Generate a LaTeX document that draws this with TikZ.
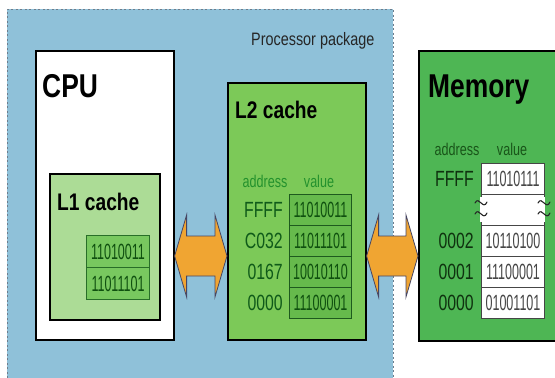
\documentclass[tikz,border=0pt]{standalone}
\usepackage{fontspec}
\setmainfont{Liberation Sans}
\newfontfamily\titlef{Liberation Sans}[FakeStretch=0.8]
\newfontfamily\lblf{Liberation Sans}[FakeStretch=0.74]
\newfontfamily\adrf{Liberation Sans}[FakeStretch=0.72]
\newfontfamily\bitf{Liberation Sans}[FakeStretch=0.57]
\usetikzlibrary{calc}
\definecolor{pkgblue}{RGB}{143,193,217}
\definecolor{pkgedge}{RGB}{110,125,140}
\definecolor{lonegreen}{RGB}{172,220,150}
\definecolor{lonecell}{RGB}{120,200,95}
\definecolor{lonecelledge}{RGB}{40,110,40}
\definecolor{ltwogreen}{RGB}{124,201,88}
\definecolor{ltwocell}{RGB}{102,186,76}
\definecolor{ltwocelledge}{RGB}{30,90,30}
\definecolor{memgreen}{RGB}{78,182,84}
\definecolor{memcelledge}{RGB}{70,70,70}
\definecolor{bitdark}{RGB}{15,80,15}
\definecolor{bitgray}{RGB}{70,70,70}
\definecolor{lblgreen}{RGB}{35,145,45}
\definecolor{lbldark}{RGB}{25,85,25}
\definecolor{adrgreen}{RGB}{15,90,25}
\definecolor{adrdark}{RGB}{15,50,15}
\definecolor{arrfill}{RGB}{240,165,50}
\definecolor{arredge}{RGB}{70,70,100}
\newcommand\dblarr[3]{%
  \filldraw[arrowstyle] let \p1=#1, \p2=#2, \p3=(0,#3) in
    (\x1,\y3) -- (\x1+12pt,\y3+41pt) -- (\x1+12pt,\y3+20pt) -- (\x2-12pt,\y3+20pt)
    -- (\x2-12pt,\y3+41pt) -- (\x2,\y3) -- (\x2-12pt,\y3-41pt) -- (\x2-12pt,\y3-20pt)
    -- (\x1+12pt,\y3-20pt) -- (\x1+12pt,\y3-41pt) -- cycle;}
\begin{document}
\begin{tikzpicture}[x=1pt,y=-1pt,
  box/.style={draw=black, line width=1.6pt, anchor=north west, inner sep=0pt},
  ltwocellst/.style={draw=ltwocelledge, line width=1pt, fill=ltwocell, anchor=north west,
     minimum width=62pt, minimum height=31pt, inner sep=0pt, text=bitdark,
     font=\bitf\fontsize{22}{22}\selectfont},
  lonecellst/.style={draw=lonecelledge, line width=1pt, fill=lonecell, anchor=north west,
     minimum width=63pt, minimum height=32pt, inner sep=0pt, text=bitdark,
     font=\bitf\fontsize{22}{22}\selectfont},
  memcellst/.style={draw=memcelledge, line width=1pt, fill=white, anchor=north west,
     minimum width=63pt, minimum height=31pt, inner sep=0pt, text=bitgray,
     font=\bitf\fontsize{22}{22}\selectfont},
  titlest/.style={anchor=base west, inner sep=0pt, font=\titlef\bfseries\fontsize{24}{24}\selectfont},
  bigtitle/.style={anchor=base west, inner sep=0pt, font=\titlef\bfseries\fontsize{33}{33}\selectfont},
  lblst/.style={anchor=base, inner sep=0pt, font=\lblf\fontsize{17}{17}\selectfont},
  adrst/.style={anchor=east, inner sep=0pt, font=\adrf\fontsize{22}{22}\selectfont},
  arrowstyle/.style={fill=arrfill, draw=arredge, line width=0.8pt, line join=miter},
  tilde/.style={draw=black!85, line width=1.1pt, line cap=round}
]
\useasboundingbox (0,0) rectangle (555,378);
% processor package
\fill[pkgblue] (7,9) rectangle (393,378);
\draw[pkgedge, line width=1pt, dash pattern=on 2pt off 2.5pt] (7,378) -- (7,9) -- (393,9) -- (393,378);
\node[anchor=base west, inner sep=0pt, text=black!85, font=\titlef\fontsize{18}{18}\selectfont] (pkglabel) at (251,45) {Processor package};

% CPU
\node[box, fill=white, minimum width=138pt, minimum height=289pt] (cpu) at (35,50) {};
\node[bigtitle] (cputitle) at (42,97) {CPU};
% L1
\node[box, fill=lonegreen, minimum width=110pt, minimum height=146pt] (lone) at (49,173) {};
\node[titlest] (lonetitle) at (57,210) {L1 cache};
\node[lonecellst] (lonea) at (86,235) {11010011};
\node[lonecellst] (loneb) at (86,267) {11011101};

% L2
\node[box, fill=ltwogreen, minimum width=138pt, minimum height=257pt] (ltwo) at (227,82) {};
\node[titlest] (ltwotitle) at (235,118) {L2 cache};
\node[lblst, text=lblgreen] (ltwoaddr) at (265,187) {address};
\node[lblst, text=lblgreen] (ltwoval) at (319,187) {value};
\node[ltwocellst] (ltwoa) at (289,194) {11010011};
\node[ltwocellst] (ltwob) at (289,225) {11011101};
\node[ltwocellst] (ltwoc) at (289,256) {10010110};
\node[ltwocellst] (ltwod) at (289,287) {11100001};
\node[adrst, text=adrgreen] (ltwoaa) at (283,210) {FFFF};
\node[adrst, text=adrgreen] (ltwoab) at (283,241) {C032};
\node[adrst, text=adrgreen] (ltwoac) at (283,272) {0167};
\node[adrst, text=adrgreen] (ltwoad) at (283,303) {0000};

% Memory
\node[box, fill=memgreen, minimum width=145pt, minimum height=290pt] (mem) at (418,50) {};
\node[bigtitle] (memtitle) at (428,97) {Memory};
\node[lblst, text=lbldark] (memaddr) at (457,155) {address};
\node[lblst, text=lbldark] (memval) at (512,155) {value};
\node[memcellst] (mema) at (481,163) {11010111};
\node[memcellst] (memgap) at (481,194) {};
\node[memcellst] (memb) at (481,225) {10110100};
\node[memcellst] (memc) at (481,256) {11100001};
\node[memcellst] (memd) at (481,287) {01001101};
\node[adrst, text=adrdark] (memaa) at (474,179) {FFFF};
\node[adrst, text=adrdark] (memab) at (474,241) {0002};
\node[adrst, text=adrdark] (memac) at (474,272) {0001};
\node[adrst, text=adrdark] (memad) at (474,303) {0000};
% gaps in side borders with tilde marks
\fill[white] (480,197) rectangle (482,222);
\fill[white] (543,197) rectangle (545,222);
\foreach \xx in {481,544}{
  \draw[tilde] (\xx-6,203) .. controls (\xx-2,195) and (\xx+2,211) .. (\xx+6,202);
  \draw[tilde] (\xx-6,214) .. controls (\xx-2,206) and (\xx+2,222) .. (\xx+6,213);
}

% double arrows
\dblarr{(cpu.east)}{(ltwo.west)}{256}
\dblarr{(ltwo.east)}{(mem.west)}{256}
\end{tikzpicture}
\end{document}
